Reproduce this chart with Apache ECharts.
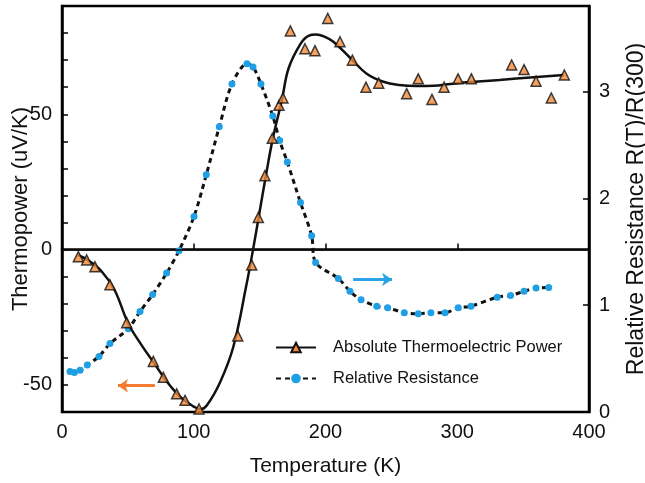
<!DOCTYPE html>
<html>
<head>
<meta charset="utf-8">
<script src="https://cdn.jsdelivr.net/npm/echarts@6/dist/echarts.min.js"></script>
<style>
  html, body { margin: 0; padding: 0; background: #fff; }
  #main { width: 645px; height: 483px; }
</style>
</head>
<body>
<div id="main"></div>
<script>
// thermopower measured points (uV/K)
var tpTemp = [12.4, 18.7, 25, 36.4, 49.1, 69.3, 76.9, 87, 93.4, 104, 133.4, 144, 149, 154, 159.6, 164.7, 167.7,
  173.3, 184.4, 192, 201.7, 211, 220.4, 230.7, 240.4, 261.6, 270.4, 280.8, 290, 300.6, 310.7, 341.3, 350.7,
  359.8, 371.4, 381.3];
var tpValues = [-2.6, -3.8, -6.3, -13, -27, -41.3, -47.2, -53.3, -55.7, -58.9, -31.9, -5.7, 11.9, 27.3, 41.1, 53.3, 56,
  80.8, 74.2, 73.5, 85.4, 76.8, 70, 60, 61.5, 57.6, 63.1, 55.5, 60, 63.1, 63.1, 68.2, 66.5,
  62.2, 56, 64.5];

// fitted thermopower curve
var fitTemp = [12, 20, 30, 40, 50, 60, 70, 80, 90, 100, 105, 110, 120, 130, 140, 145, 150, 155, 160, 167, 172,
  181, 187, 193, 200, 206, 219, 231, 244, 256, 269, 282, 295, 307, 332, 358, 381];
var fitValues = [-2, -4, -8, -15, -27, -35, -42, -49, -54.5, -58, -59, -57.5, -49, -36, -13, 0, 14, 28, 41, 55.5, 67,
  76, 79, 79.5, 78.5, 76.8, 70.7, 65.1, 62, 60.8, 60.4, 60.5, 61.2, 61.8, 62.7, 63.7, 64.5];

// relative resistance R(T)/R(300)
var resTemp = [6.1, 9.4, 13.7, 19.2, 28.1, 36.4, 50.3, 59.2, 68.8, 79.4, 88.8, 100.2, 109.5, 119.4, 129, 140.4,
  145, 151, 160, 165.2, 171, 181, 189.5, 192.5, 209.7, 218.6, 227, 238.9, 247.2, 259.8, 270.4, 280, 290.7,
  300.8, 310.4, 330.4, 340.5, 350.7, 359.8, 369.4];
var resValues = [0.38, 0.37, 0.39, 0.44, 0.52, 0.64, 0.78, 0.94, 1.10, 1.30, 1.51, 1.83, 2.22, 2.67, 3.07, 3.26,
  3.23, 3.07, 2.77, 2.54, 2.34, 1.96, 1.65, 1.40, 1.25, 1.13, 1.05, 0.99, 0.975, 0.93, 0.92, 0.93, 0.93,
  0.975, 0.99, 1.075, 1.09, 1.13, 1.16, 1.165];

function pairs(xs, ys) {
  return xs.map(function (x, i) { return [x, ys[i]]; });
}

var font = 'Liberation Sans, Arial, sans-serif';
var orange = '#f28a3a';
var blue = '#1fa0e4';

var myChart = echarts.init(document.getElementById('main'));

var option = {
  animation: false,
  grid: {
    left: 62, right: 56, top: 6, bottom: 71,
    outerBoundsMode: 'none',
    containLabel: false,
    show: true, borderColor: '#000', borderWidth: 2.5
  },
  legend: {
    data: ['Absolute Thermoelectric Power', 'Relative Resistance'],
    orient: 'vertical',
    left: 270, top: 334,
    itemWidth: 40, itemHeight: 12, itemGap: 14,
    textStyle: { fontFamily: font, fontSize: 16.5, color: '#111', padding: [0, 0, 0, 12] }
  },
  xAxis: {
    type: 'value', min: 0, max: 400, interval: 100,
    name: 'Temperature (K)', nameLocation: 'middle', nameGap: 44, nameMoveOverlap: false,
    nameTextStyle: { fontFamily: font, fontSize: 21, color: '#111' },
    axisLine: { lineStyle: { color: '#000', width: 2.5 } },
    axisTick: { inside: true, length: 6, lineStyle: { color: '#000', width: 1.5 } },
    axisLabel: { fontFamily: font, fontSize: 20, color: '#111', margin: 10 },
    splitLine: { show: false }
  },
  yAxis: [
    {
      type: 'value', min: -60, max: 90, interval: 10,
      name: 'Thermopower (uV/K)', nameLocation: 'middle', nameGap: 30, nameMoveOverlap: false,
      nameTextStyle: { fontFamily: font, fontSize: 22, color: '#111' },
      axisLine: { onZero: false, lineStyle: { color: '#000', width: 2.5 } },
      axisTick: { inside: true, length: 6, lineStyle: { color: '#000', width: 1.5 } },
      axisLabel: {
        fontFamily: font, fontSize: 20, color: '#111', margin: 10,
        formatter: function (v) { return v % 50 === 0 ? String(v) : ''; }
      },
      splitLine: { show: false }
    },
    {
      type: 'value', min: 0, max: 3.8, interval: 1, position: 'right',
      name: 'Relative Resistance R(T)/R(300)', nameLocation: 'middle', nameGap: 36, nameMoveOverlap: false,
      nameTextStyle: { fontFamily: font, fontSize: 23, color: '#111' },
      axisLine: { onZero: false, lineStyle: { color: '#000', width: 2.5 } },
      axisTick: { inside: true, length: 6, lineStyle: { color: '#000', width: 1.5 } },
      axisLabel: {
        fontFamily: font, fontSize: 20, color: '#111', margin: 10,
        formatter: function (v) { return Number.isInteger(v) ? String(v) : ''; }
      },
      splitLine: { show: false }
    }
  ],
  series: [
    {
      name: 'Absolute Thermoelectric Power',
      type: 'line',
      data: pairs(fitTemp, fitValues),
      smooth: 0.4,
      showSymbol: false,
      symbol: 'triangle',
      symbolSize: 10,
      itemStyle: { color: orange, borderColor: '#111', borderWidth: 1.5 },
      lineStyle: { color: '#111', width: 2.5 },
      z: 3,
      markLine: {
        silent: true,
        symbol: ['none', 'none'],
        label: { show: false },
        lineStyle: { color: '#111', width: 1.5, type: 'solid' },
        data: [
          { yAxis: 0 },
          [
            { coord: [70.5, -50.3], symbol: 'none' },
            { coord: [42.5, -50.3], symbol: 'arrow', symbolSize: [10, 10],
              lineStyle: { color: '#f47b2f', width: 3 } }
          ]
        ]
      }
    },
    {
      name: 'Absolute Thermoelectric Power',
      type: 'scatter',
      data: pairs(tpTemp, tpValues),
      symbol: 'triangle',
      symbolSize: 10,
      itemStyle: { color: orange, borderColor: '#111', borderWidth: 1.5 },
      z: 4
    },
    {
      name: 'Relative Resistance',
      type: 'line',
      yAxisIndex: 1,
      data: pairs(resTemp, resValues),
      smooth: 0.3,
      symbol: 'circle',
      symbolSize: 7,
      itemStyle: { color: blue, borderWidth: 0 },
      lineStyle: { color: '#111', width: 3, type: [5, 4] },
      z: 2,
      markLine: {
        silent: true,
        label: { show: false },
        data: [
          [
            { coord: [221, 1.24], symbol: 'none' },
            { coord: [250.5, 1.24], symbol: 'arrow', symbolSize: [10, 10] }
          ]
        ],
        lineStyle: { color: '#2aa4e6', width: 3, type: 'solid' }
      }
    }
  ]
};

myChart.setOption(option);
</script>
</body>
</html>
